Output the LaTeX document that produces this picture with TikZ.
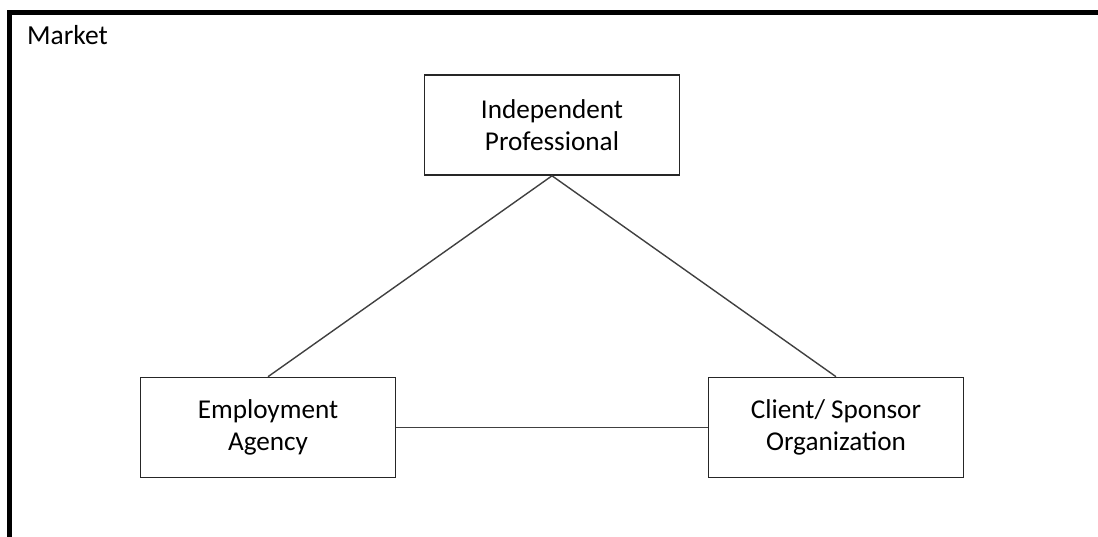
\documentclass[tikz,border=0pt]{standalone}
\usepackage{fontspec}
\setmainfont{Carlito}
\begin{document}
\begin{tikzpicture}[x=1pt,y=-1pt,
  entity/.style={draw=black!85, line width=1.6pt, minimum width=255pt, minimum height=100pt,
    inner sep=0pt, align=center, font=\fontsize{27.2}{32}\selectfont},
  link/.style={draw=black!75, line width=1.4pt}]
\useasboundingbox (0,0) rectangle (1098,536);
\clip (0,0) rectangle (1098,536);
\draw[line width=5pt] (9.5,560) -- (9.5,12) -- (1120,12);
\node[anchor=base west, font=\fontsize{27.5}{32}\selectfont, inner sep=0pt] (market) at (27,44.5) {Market};
\node[entity] (ip) at (552,125) {Independent\\Professional};
\node[entity] (ea) at (268,427.5) {Employment\\Agency};
\node[entity] (cs) at (836,427.5) {Client/ Sponsor\\Organization};
\draw[link] (ip.south) -- (ea.north);
\draw[link] (ip.south) -- (cs.north);
\draw[link] (ea.east) -- (cs.west);
\end{tikzpicture}
\end{document}
